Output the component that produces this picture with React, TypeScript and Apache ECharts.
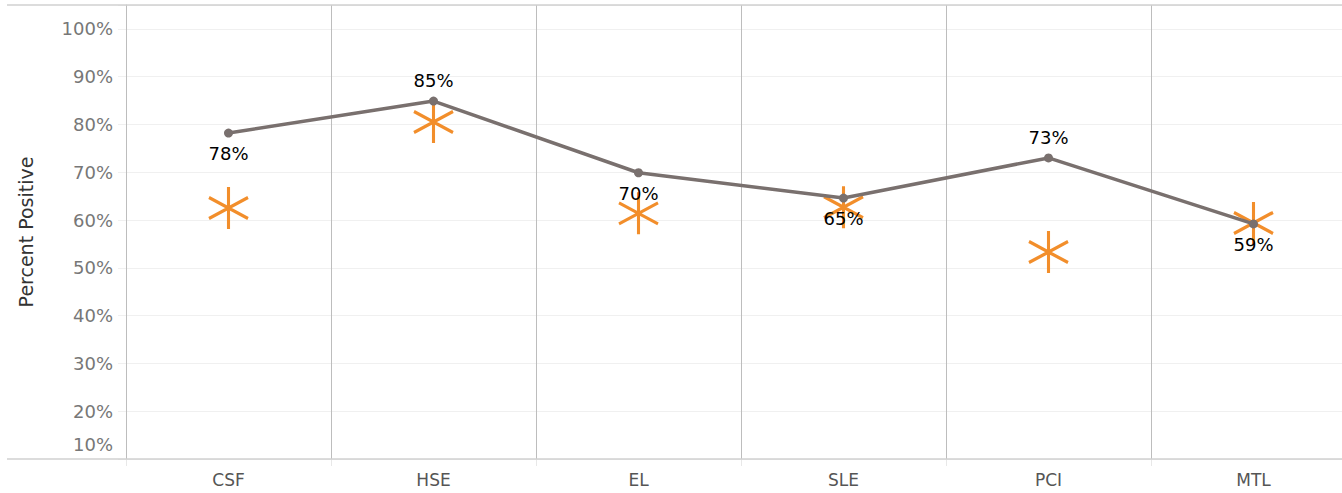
import React, { useEffect, useRef } from "react";
import * as echarts from "echarts";

const categories = ["CSF", "HSE", "EL", "SLE", "PCI", "MTL"];
const percentPositive = [78.2, 84.9, 69.9, 64.6, 73.0, 59.2];
const benchmark = [62.5, 80.5, 61.4, 62.7, 53.3, 59.4];
const yTicks = [10, 20, 30, 40, 50, 60, 70, 80, 90, 100];

const FONT = "DejaVu Sans";
const ASTERISK = "path://M0,-21 L0,21 M-19.5,-10.5 L19.5,10.5 M-19.5,10.5 L19.5,-10.5";

export default function App() {
  const ref = useRef<HTMLDivElement>(null);
  useEffect(() => {
    if (!ref.current) return;
    const chart = echarts.init(ref.current, undefined, { renderer: "svg" });
    const lineData = percentPositive.map((v, i) => {
      const prev = i > 0 ? percentPositive[i - 1] : -Infinity;
      const next = i < percentPositive.length - 1 ? percentPositive[i + 1] : -Infinity;
      const peak = v > prev && v > next;
      return { value: v, label: { position: peak ? "top" : "bottom" } };
    });
    chart.setOption({
      animation: false,
      backgroundColor: "#ffffff",
      grid: {
        left: 126,
        width: 1230,
        top: 5,
        height: 454,
        containLabel: false,
        outerBoundsMode: "none",
      },
      xAxis: {
        type: "category",
        data: categories,
        boundaryGap: true,
        axisLine: { show: false },
        axisTick: { show: true, length: 7, lineStyle: { color: "#e8e8e8", width: 1 } },
        axisLabel: { color: "#555555", fontSize: 17, fontFamily: FONT, margin: 12 },
        splitLine: { show: true, lineStyle: { color: "#bdbdbd", width: 1 } },
      },
      yAxis: {
        type: "value",
        min: 10,
        max: 105,
        interval: 10,
        name: "Percent Positive",
        nameLocation: "middle",
        nameGap: 91,
        nameTextStyle: { color: "#333333", fontSize: 19, fontFamily: FONT },
        axisLine: { show: true, lineStyle: { color: "#bdbdbd", width: 1 } },
        axisTick: { show: true, length: 8, lineStyle: { color: "#f0f0f0", width: 1 } },
        axisLabel: {
          color: "#777777",
          fontSize: 18,
          fontFamily: FONT,
          margin: 13,
          formatter: (v: number) => {
            if (!yTicks.includes(v)) return "";
            if (v === yTicks[0]) return "{low|" + v + "%}";
            return v + "%";
          },
          rich: {
            low: { color: "#777777", fontSize: 18, fontFamily: FONT, padding: [0, 0, 30, 0] },
          },
        },
        splitLine: { show: true, lineStyle: { color: "#f0f0f0", width: 1 } },
      },
      graphic: [
        {
          type: "line",
          shape: { x1: 7, y1: 5, x2: 1342, y2: 5 },
          style: { stroke: "#d0d0d0", lineWidth: 1.5 },
          z: 100,
        },
        {
          type: "line",
          shape: { x1: 7, y1: 459, x2: 1342, y2: 459 },
          style: { stroke: "#d0d0d0", lineWidth: 1.5 },
          z: 100,
        },
      ],
      series: [
        {
          type: "scatter",
          data: benchmark,
          symbol: ASTERISK,
          symbolSize: [39, 42],
          itemStyle: { color: "none", borderColor: "#F28E2B", borderWidth: 3.2, opacity: 1 },
          z: 2,
        },
        {
          type: "line",
          data: lineData,
          symbol: "circle",
          symbolSize: 9,
          lineStyle: { color: "#79706E", width: 3.5 },
          itemStyle: { color: "#79706E" },
          label: {
            show: true,
            color: "#000000",
            fontSize: 18,
            fontFamily: FONT,
            distance: 7,
            formatter: (p: any) => Math.round(p.value) + "%",
          },
          z: 3,
        },
      ],
    });
    return () => chart.dispose();
  }, []);
  return (
    <div
      ref={ref}
      style={{ position: "absolute", left: 0, top: 0, width: 1342, height: 493 }}
    />
  );
}
